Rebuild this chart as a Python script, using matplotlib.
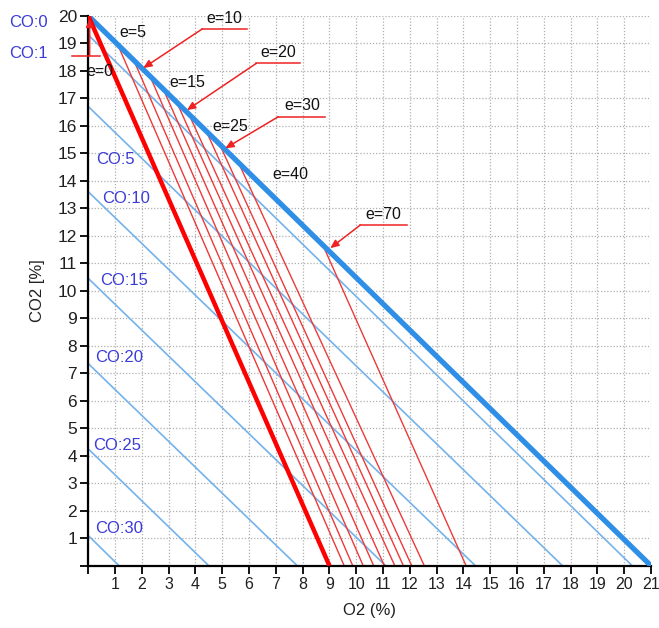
import matplotlib
matplotlib.use("Agg")
import matplotlib.pyplot as plt
import numpy as np

# ---- data ----
# CO iso-lines: (O2=0, CO2=y0) -> (O2=x0, CO2=0)
co_levels = [0, 1, 5, 10, 15, 20, 25, 30]
co_co2_at_o2_zero = [20.0, 19.3, 16.7, 13.6, 10.45, 7.35, 4.25, 1.1]
co_o2_at_co2_zero = [21.0, 20.3, 17.7, 14.45, 11.1, 7.8, 4.5, 1.15]
co_label_text = ["CO:0", "CO:1", "CO:5", "CO:10", "CO:15", "CO:20", "CO:25", "CO:30"]

# excess-air lines: start on CO:0 line, end on O2 axis
e0_start = (0.0, 20.0)
e0_end_o2 = 9.0
e_start_o2 = [1.1, 1.7, 2.3, 2.8, 3.3, 3.75, 4.4, 4.9, 5.6, 8.75]
e_start_co2 = [18.95, 18.38, 17.81, 17.33, 16.86, 16.43, 15.81, 15.33, 14.67, 11.67]
e_end_o2 = [9.55, 9.87, 10.26, 10.65, 11.05, 11.44, 11.76, 12.07, 12.54, 14.1]

# plain e labels (text only)
plain_labels = ["e=5", "e=15", "e=25", "e=40"]
plain_pos = [(1.68, 19.41), (3.71, 17.57), (5.3, 15.96), (7.56, 14.24)]

# callout labels: text, leader (x_left, x_right, y), arrow tip
call_labels = ["e=10", "e=20", "e=30", "e=70"]
call_leader = [(4.25, 5.93, 19.52), (6.27, 7.91, 18.27), (7.09, 8.85, 16.33), (10.15, 11.9, 12.39)]
call_tip = [(2.05, 18.1), (3.68, 16.57), (5.11, 15.18), (9.03, 11.55)]

x_ticks = list(range(0, 22))
y_ticks = list(range(0, 21))

# ---- figure ----
fig = plt.figure(figsize=(6.59, 6.28), dpi=100)
ax = fig.add_axes([88.3 / 659, 1 - 565.8 / 628, (651 - 88.3) / 659, 550 / 628])
ax.set_xlim(0, 21)
ax.set_ylim(0, 20)

ax.set_xticks(x_ticks)
ax.set_xticklabels([("" if t == 0 else str(t)) for t in x_ticks])
ax.set_yticks(y_ticks)
ax.set_yticklabels([("" if t == 0 else str(t)) for t in y_ticks])
ax.grid(True, color="#b0b0b0", linestyle=(0, (1, 1.5)), linewidth=0.9)
ax.set_axisbelow(True)
for s in ["top", "right"]:
    ax.spines[s].set_visible(False)
for s in ["left", "bottom"]:
    ax.spines[s].set_linewidth(1.6)
ax.tick_params(direction="out", length=6, width=1.3, colors="black", pad=2)
for lab in ax.get_xticklabels():
    lab.set_fontfamily("Liberation Sans")
    lab.set_fontsize(11.5)
    lab.set_color("#202020")
for lab in ax.get_yticklabels():
    lab.set_fontfamily("Liberation Sans")
    lab.set_fontsize(12.5)
    lab.set_color("#202020")

ax.set_xlabel("O2 (%)", fontfamily="Liberation Sans", fontsize=12, labelpad=8, color="#202020")
ax.set_ylabel("CO2 [%]", fontfamily="Liberation Sans", fontsize=12, labelpad=9, color="#202020")

# CO lines
for i, c in enumerate(co_levels):
    thick = (c == 0)
    ax.plot([0, co_o2_at_co2_zero[i]], [co_co2_at_o2_zero[i], 0],
            color="#2f8fe6" if thick else "#74b2ea",
            lw=3.8 if thick else 1.2, solid_capstyle="butt", zorder=3 if thick else 2)

# red excess-air lines
ax.plot([e0_start[0], e0_end_o2], [e0_start[1], 0], color="#ff0000", lw=3.2, zorder=4,
        solid_capstyle="butt")
for s, sc, en in zip(e_start_o2, e_start_co2, e_end_o2):
    ax.plot([s, en], [sc, 0], color="#ec3a3a", lw=1.0, zorder=2.5)

# CO labels
co_lab_pos = [(-2.95, 19.75), (-2.95, 18.64), (0.31, 14.79), (0.5, 13.34), (0.44, 10.36),
              (0.25, 7.56), (0.18, 4.37), (0.25, 1.34)]
for t, (x, y) in zip(co_label_text, co_lab_pos):
    ax.text(x, y, t, color="#3b3bd8", fontsize=12, fontfamily="Liberation Sans",
            ha="left", va="center", clip_on=False, zorder=6)

# plain e labels
for t, (x, y) in zip(plain_labels, plain_pos):
    ax.text(x, y, t, fontsize=11.5, fontfamily="Liberation Sans", ha="center", va="center",
            color="#111111", zorder=6)

# callouts
for t, (xl, xr, yl), tip in zip(call_labels, call_leader, call_tip):
    ax.plot([xl, xr], [yl, yl], color="#ee2222", lw=1.1, zorder=5, clip_on=False)
    ax.annotate("", xy=tip, xytext=(xl, yl),
                arrowprops=dict(arrowstyle="-|>,head_length=0.5,head_width=0.22", color="#ee2222",
                                lw=1.1, shrinkA=0, shrinkB=0), zorder=5, annotation_clip=False)
    ax.text((xl + xr) / 2, yl + 0.12, t, fontsize=11.5, fontfamily="Liberation Sans",
            ha="center", va="bottom", color="#111111", zorder=6, clip_on=False)

# e=0 callout
ax.plot([-0.62, 0.44], [18.54, 18.54], color="#ee2222", lw=1.1, zorder=5, clip_on=False)
ax.annotate("", xy=(0.05, 19.9), xytext=(0.05, 18.54),
            arrowprops=dict(arrowstyle="-|>,head_length=0.5,head_width=0.22", color="#ee2222",
                            lw=1.1, shrinkA=0, shrinkB=0), zorder=5, annotation_clip=False)
ax.text(0.42, 17.97, "e=0", fontsize=11.5, fontfamily="Liberation Sans", ha="center",
        va="center", color="#111111", zorder=6, clip_on=False)

fig.savefig("out.png", dpi=100)
